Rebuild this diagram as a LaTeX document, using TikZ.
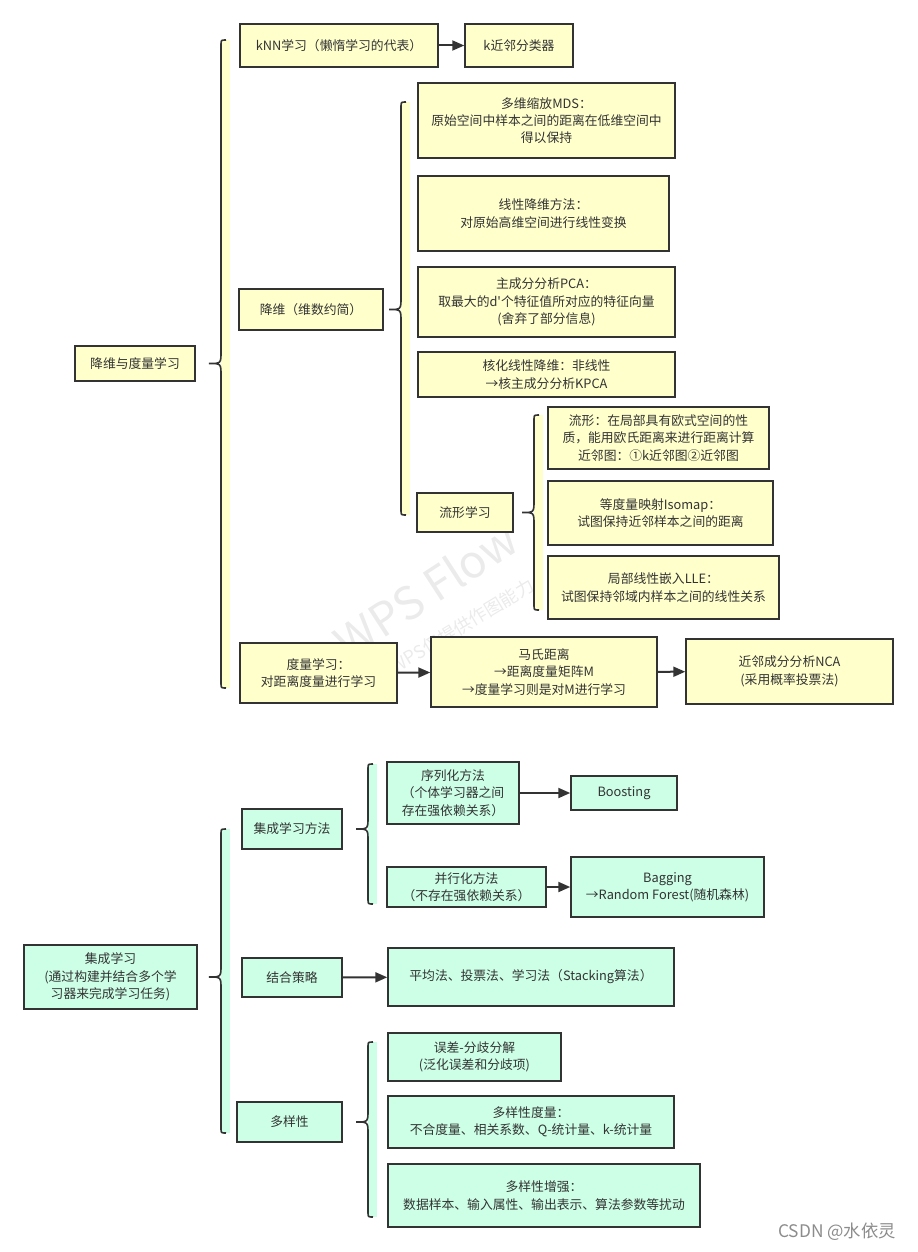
\documentclass[tikz,border=0pt]{standalone}
\usepackage{fontspec}
\setmainfont{Noto Sans CJK SC}[Ligatures=TeXOff]
\usetikzlibrary{arrows.meta,calc}
\definecolor{ink}{HTML}{333333}
\definecolor{lemon}{HTML}{FFFFCC}
\definecolor{mint}{HTML}{CCFFE6}
\newcommand{\sidebrace}[5]{%
  \fill[#1] (#2,#3) rectangle (#2+9,#4);
  \coordinate (cusp) at (#2-12,0 |- #5);
  \draw[brace] (#2+5,#3) .. controls (#2,#3) .. (#2,#3+5)
    -- ($(cusp)+(12,-12)$) .. controls ($(cusp)+(12,0)$) .. (cusp)
    .. controls ($(cusp)+(12,0)$) .. ($(cusp)+(12,12)$)
    -- (#2,#4-5) .. controls (#2,#4) .. (#2+5,#4);}

\begin{document}
\begin{tikzpicture}[x=0.75pt,y=-0.75pt]
\tikzset{card/.style={draw=ink, line width=1.1pt, text=ink, align=center, inner sep=0pt, font=\fontsize{9.6}{13}\selectfont},
  ycard/.style={card, fill=lemon},
  gcard/.style={card, fill=mint},
  sz/.style 2 args={minimum width=#1*0.75pt, minimum height=#2*0.75pt},
  link/.style={draw=ink, line width=1.5pt, -{Triangle[length=9pt,width=7.5pt]}},
  brace/.style={draw=ink, line width=1.2pt},
  wmark/.style={text=black!8}}
\useasboundingbox (0,0) rectangle (917,1252);
\node[wmark, rotate=33, font=\fontsize{34}{34}\selectfont] (wm1) at (426,590) {WPS Flow};
\node[wmark, rotate=31, font=\fontsize{13.5}{14}\selectfont] (wm2) at (462,626) {WPS仅提供作图能力};
\node[ycard, sz={120}{35}] (root) at (135,363.5) {降维与度量学习};
\node[ycard, sz={198}{43}] (knn) at (339,45.5) {kNN学习（懒惰学习的代表）};
\node[ycard, sz={108}{43}] (kcls) at (519,45.5) {k近邻分类器};
\node[ycard, sz={144}{41}] (dimred) at (311,309.5) {降维（维数约简）};
\node[ycard, sz={257}{75}] (mds) at (546.5,120.5) {多维缩放MDS：\\原始空间中样本之间的距离在低维空间中\\得以保持};
\node[ycard, sz={251}{75}] (lin) at (543.5,213.5) {线性降维方法：\\对原始高维空间进行线性变换};
\node[ycard, sz={257}{70}] (pca) at (546.5,302) {主成分分析PCA：\\取最大的d'个特征值所对应的特征向量\\(舍弃了部分信息)};
\node[ycard, sz={257}{45}] (kpca) at (546.5,374.5) {核化线性降维：非线性\\→核主成分分析KPCA};
\node[ycard, sz={96}{39}] (manif) at (465,512.5) {流形学习};
\node[ycard, sz={221}{62}] (mdef) at (658.5,438) {流形：在局部具有欧式空间的性\\质，能用欧氏距离来进行距离计算\\近邻图：①k近邻图②近邻图};
\node[ycard, sz={225}{64}] (iso) at (660.5,513) {等度量映射Isomap：\\试图保持近邻样本之间的距离};
\node[ycard, sz={231}{63}] (lle) at (663.5,587.5) {局部线性嵌入LLE：\\试图保持邻域内样本之间的线性关系};
\node[ycard, sz={157}{60}] (metric) at (318.5,673) {度量学习：\\对距离度量进行学习};
\node[ycard, sz={226}{70}] (maha) at (544,672) {马氏距离\\→距离度量矩阵M\\→度量学习则是对M进行学习};
\node[ycard, sz={207}{65}] (nca) at (789.5,671.5) {近邻成分分析NCA\\(采用概率投票法)};
\sidebrace{lemon}{221}{40}{688}{root}
\sidebrace{lemon}{401}{102}{515}{dimred}
\sidebrace{lemon}{534}{415}{610}{manif}
\draw[link] (knn) -- (kcls);
\draw[link] (metric) -- (maha);
\draw[link] (maha) -- (nca);
\node[gcard, sz={173}{64}] (ens) at (110.5,977) {集成学习\\(通过构建并结合多个学\\习器来完成学习任务)};
\node[gcard, sz={100}{40}] (ensm) at (292,829) {集成学习方法};
\node[gcard, sz={100}{39}] (comb) at (292,977.5) {结合策略};
\node[gcard, sz={105}{40}] (div) at (289.5,1122) {多样性};
\node[gcard, sz={132}{62}] (seq) at (453,793) {序列化方法\\（个体学习器之间\\存在强依赖关系）};
\node[gcard, sz={106}{34}] (boost) at (624,793) {Boosting};
\node[gcard, sz={159}{40}] (par) at (466.5,887) {并行化方法\\（不存在强依赖关系）};
\node[gcard, sz={193}{60}] (bag) at (667.5,887) {Bagging\\→Random Forest(随机森林)};
\node[gcard, sz={286}{58}] (avg) at (531,977) {平均法、投票法、学习法（Stacking算法）};
\node[gcard, sz={173}{48}] (err) at (474.5,1057) {误差-分歧分解\\(泛化误差和分歧项)};
\node[gcard, sz={286}{52}] (dmeas) at (531,1122) {多样性度量：\\不合度量、相关系数、Q-统计量、k-统计量};
\node[gcard, sz={312}{63}] (denh) at (544,1195.5) {多样性增强：\\数据样本、输入属性、输出表示、算法参数等扰动};
\sidebrace{mint}{221}{829}{1133}{ens}
\sidebrace{mint}{368}{764}{904}{ensm}
\sidebrace{mint}{368}{1042}{1217}{div}
\draw[link] (seq) -- (boost);
\draw[link] (par) -- (bag);
\draw[link] (comb) -- (avg);
\node[text=black!45, font=\fontsize{13}{13}\selectfont] (csdn) at (837,1232) {CSDN @水依灵};
\end{tikzpicture}
\end{document}
